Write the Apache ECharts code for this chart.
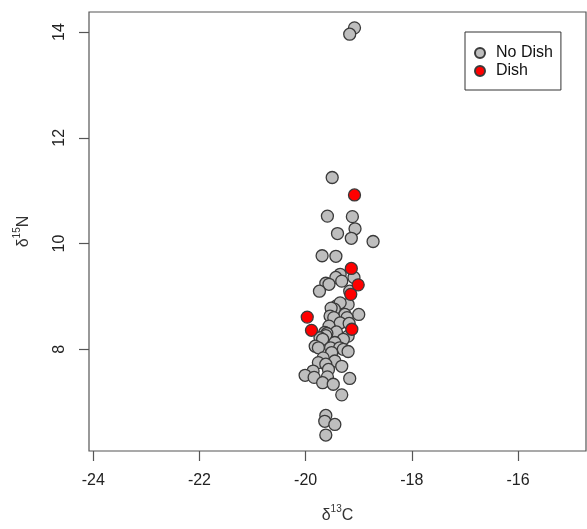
<!DOCTYPE html>
<html>
<head>
<meta charset="utf-8">
<script src="https://cdn.jsdelivr.net/npm/echarts@6/dist/echarts.min.js"></script>
<style>
html,body{margin:0;padding:0;background:#fff;}
#chart{width:587px;height:529px;}
</style>
</head>
<body>
<div id="chart"></div>
<script>
// d13C, d15N values
var noDish = [
  [-19.08, 14.08], [-19.17, 13.96], [-19.50, 11.25], [-19.59, 10.52], [-19.12, 10.51],
  [-19.07, 10.28], [-19.40, 10.19], [-19.14, 10.10], [-18.73, 10.04], [-19.69, 9.77],
  [-19.43, 9.76], [-19.35, 9.42], [-19.43, 9.36], [-19.32, 9.29], [-19.09, 9.36],
  [-19.62, 9.25], [-19.56, 9.23], [-19.74, 9.10], [-19.17, 9.10],
  [-19.20, 8.85], [-19.42, 8.82], [-19.35, 8.88], [-19.46, 8.76], [-19.52, 8.78],
  [-19.00, 8.66], [-19.26, 8.66], [-19.54, 8.63], [-19.47, 8.60], [-19.22, 8.60],
  [-19.35, 8.50], [-19.18, 8.49], [-19.56, 8.44], [-19.42, 8.33], [-19.64, 8.32],
  [-19.60, 8.30], [-19.62, 8.26], [-19.20, 8.25], [-19.73, 8.22], [-19.68, 8.19],
  [-19.29, 8.19], [-19.45, 8.13], [-19.82, 8.06], [-19.76, 8.03], [-19.53, 8.03],
  [-19.36, 8.03], [-19.29, 8.00], [-19.20, 7.96], [-19.51, 7.94], [-19.67, 7.84],
  [-19.45, 7.78], [-19.76, 7.75], [-19.62, 7.72], [-19.32, 7.68], [-19.57, 7.62],
  [-19.86, 7.59], [-20.01, 7.51], [-19.84, 7.47], [-19.59, 7.48], [-19.17, 7.45],
  [-19.68, 7.37], [-19.48, 7.34], [-19.32, 7.14], [-19.62, 6.75], [-19.64, 6.64],
  [-19.45, 6.58], [-19.62, 6.38]
];
var dish = [
  [-19.08, 10.92], [-19.14, 9.53], [-19.01, 9.22], [-19.15, 9.04],
  [-19.97, 8.61], [-19.89, 8.36], [-19.13, 8.38]
];
var xTicks = [-24, -22, -20, -18, -16];
var yTicks = [8, 10, 12, 14];
var seriesNames = ['No Dish', 'Dish'];

var FONT = 'Liberation Sans, Arial, sans-serif';
var chart = echarts.init(document.getElementById('chart'));
var titleRich = {
  d: {fontSize: 16, fontFamily: FONT, color: '#333', lineHeight: 20, verticalAlign: 'bottom'},
  s: {fontSize: 10, fontFamily: FONT, color: '#333', lineHeight: 20, verticalAlign: 'top'}
};
chart.setOption({
  animation: false,
  backgroundColor: '#fff',
  textStyle: {fontFamily: FONT},
  grid: {left: 89, right: 1, top: 12, bottom: 529 - 452, show: true,
         borderColor: '#555', borderWidth: 1.2, backgroundColor: 'transparent'},
  legend: {
    orient: 'vertical', left: 465, top: 32,
    data: seriesNames,
    icon: 'circle', itemWidth: 10, itemHeight: 10, itemGap: 0,
    padding: [12, 8, 10, 9],
    borderColor: '#333', borderWidth: 1, borderRadius: 0,
    textStyle: {fontSize: 16, color: '#111', fontFamily: FONT, lineHeight: 18, padding: [0, 0, 0, 6]}
  },
  xAxis: {
    type: 'value', min: -24.08, max: -14.72,
    splitLine: {show: false},
    axisLine: {show: false},
    axisTick: {show: true, length: 10, customValues: xTicks, lineStyle: {color: '#555', width: 1.2}},
    axisLabel: {customValues: xTicks, margin: 22, fontSize: 16, color: '#222', fontFamily: FONT},
    name: '{d|δ}{s|13}{d|C}', nameLocation: 'middle', nameGap: 53,
    nameTextStyle: {rich: titleRich}
  },
  yAxis: {
    type: 'value', min: 6.078, max: 14.38,
    splitLine: {show: false},
    axisLine: {show: false},
    axisTick: {show: true, length: 10, customValues: yTicks, lineStyle: {color: '#555', width: 1.2}},
    axisLabel: {customValues: yTicks, margin: 21, fontSize: 16, color: '#222', rotate: 90, fontFamily: FONT},
    name: '{d|δ}{s|15}{d|N}', nameLocation: 'middle', nameGap: 57,
    nameTextStyle: {rich: titleRich}
  },
  series: [
    {name: seriesNames[0], type: 'scatter', data: noDish, symbolSize: 12,
     itemStyle: {color: '#bebebe', borderColor: '#3a3a3a', borderWidth: 1.3, opacity: 1}},
    {name: seriesNames[1], type: 'scatter', data: dish, symbolSize: 12,
     itemStyle: {color: '#ff0000', borderColor: '#3a3a3a', borderWidth: 1.3, opacity: 1}}
  ]
});
</script>
</body>
</html>
